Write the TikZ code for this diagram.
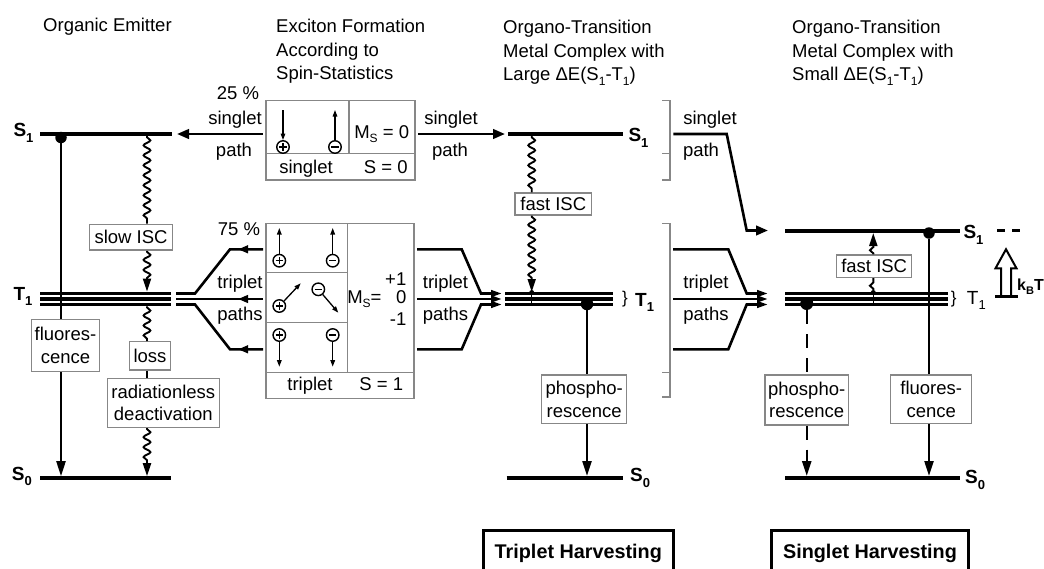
\documentclass[tikz,border=0pt]{standalone}
\usepackage{fontspec}
\setmainfont{Liberation Sans}
\usetikzlibrary{arrows.meta,decorations.pathmorphing,decorations.markings}
\definecolor{framegray}{RGB}{135,135,135}
% small lowered index inside running text
\newcommand\sbs[1]{\raisebox{-0.25em}{\fontsize{12}{12}\selectfont #1}}
% index of a state label
\newcommand\lvsub[1]{\raisebox{-5.8pt}{\fontsize{13}{13}\selectfont #1}}
\begin{document}
\begin{tikzpicture}[x=1pt,y=-1pt,
  every node/.style={font=\fontsize{18.5}{23.5}\selectfont, inner sep=0pt},
  lab/.style={anchor=base},
  labr/.style={anchor=base east},
  title/.style={anchor=north west, align=left},
  lvname/.style={anchor=base west, font=\fontsize{19}{19}\selectfont\bfseries},
  lvplain/.style={anchor=base west, font=\fontsize{19}{19}\selectfont},
  bracechar/.style={font=\fontsize{17}{17}\selectfont},
  gbox/.style={draw=framegray, line width=1.4pt, fill=white, align=center,
               font=\fontsize{18.5}{22.5}\selectfont},
  cellframe/.style={draw=framegray, line width=1.4pt},
  gridline/.style={framegray, line width=1.4pt},
  level/.style={line width=4.2pt},
  sublevel/.style={line width=3.6pt},
  trans/.style={line width=2.2pt},
  tip/.style={-{Triangle[length=15pt,width=9pt]}},
  dashtrans/.style={line width=2.4pt, dash pattern=on 14pt off 10pt},
  wavy/.style={line width=1.9pt, decorate,
    decoration={snake, amplitude=3.4pt, segment length=10pt, pre length=1pt, post length=1pt}},
  wavytip/.style={line width=1.9pt, decorate,
    decoration={snake, amplitude=3.4pt, segment length=10pt, pre length=1pt, post length=11pt},
    -{Triangle[length=13pt,width=8pt]}},
  pathline/.style={line width=2.6pt, line join=miter},
  pathtip/.style={-{Triangle[length=12pt,width=9.5pt]}},
  smalltip/.style={-{Triangle[length=11pt,width=6.5pt]}},
  midtip/.style={postaction={decorate}, decoration={markings,
      mark=at position 25pt with {\arrow{Triangle[length=10pt,width=7.5pt]}}}},
  chg/.style={circle, draw, line width=1.4pt, minimum size=12.5pt, inner sep=0pt, fill=white},
  poschg/.style={chg, path picture={\draw[line width=1.3pt]
      ([xshift=-3.6pt]path picture bounding box.center) -- ([xshift=3.6pt]path picture bounding box.center)
      ([yshift=-3.6pt]path picture bounding box.center) -- ([yshift=3.6pt]path picture bounding box.center);}},
  negchg/.style={chg, path picture={\draw[line width=1.3pt]
      ([xshift=-3.6pt]path picture bounding box.center) -- ([xshift=3.6pt]path picture bounding box.center);}},
  spin/.style={line width=1.3pt, -{Triangle[length=6.5pt,width=4.5pt]}},
  bulb/.style={circle, fill, inner sep=0pt},
  hframe/.style={draw, line width=3pt},
  htext/.style={anchor=base, font=\fontsize{19.8}{19.8}\selectfont\bfseries},
]
\useasboundingbox (0,0) rectangle (1044,568);
\clip (0,0) rectangle (1044,568);

% ---------------- column headings
\node[title] (hOrg) at (43,18.3) {Organic Emitter};
\node[title] (hExc) at (276,19.3) {Exciton Formation\\According to\\Spin-Statistics};
\node[title] (hLarge) at (503,20) {Organo-Transition\\Metal Complex with\\Large ΔE(S\sbs{1}-T\sbs{1})};
\node[title] (hSmall) at (792,20) {Organo-Transition\\Metal Complex with\\Small ΔE(S\sbs{1}-T\sbs{1})};

% ================= organic emitter
\coordinate (oS1) at (40,134);   \coordinate (oS1e) at (172,134);
\coordinate (oS0) at (40,478);   \coordinate (oS0e) at (171,478);
\draw[level] (oS1) -- (oS1e);
\foreach \yy in {293.5,299,304.5} \draw[sublevel] (40,\yy) -- (171,\yy);
\draw[level] (oS0) -- (oS0e);
\node[lvname] (lOS1) at (13.3,136.7) {S\lvsub{1}};
\node[lvname] (lOT1) at (13.3,300) {T\lvsub{1}};
\node[lvname] (lOS0) at (11.7,480) {S\lvsub{0}};

% fluorescence
\node[gbox, minimum width=67.6pt, minimum height=52.4pt] (oFl) at (65.5,345.5) {fluores-\\cence};
\node[bulb, minimum size=11.5pt] (oFlDot) at (61,137.5) {};
\coordinate (oFlA) at (61,134);
\coordinate (oFlB) at (61,476.2);
\draw[trans] (oFlA) -- (oFlA |- oFl.north);
\draw[trans,tip] (oFlA |- oFl.south) -- (oFlB);

% intersystem crossing and radiationless loss
\node[gbox, minimum width=83.4pt, minimum height=25.7pt] (oSlow) at (131,237.2) {slow ISC};
\node[gbox, minimum width=41.4pt, minimum height=28.3pt] (oLoss) at (150,355.9) {loss};
\node[gbox, minimum width=112pt, minimum height=49pt] (oRad) at (163.3,402.8) {radiationless\\deactivation};
\coordinate (oWa) at (147,136.2);
\coordinate (oWt) at (147,291.6);
\coordinate (oWu) at (147,306.4);
\coordinate (oWb) at (147,476.2);
\draw[wavy] (oWa) -- (oWa |- oSlow.north);
\draw[wavytip] (oWa |- oSlow.south) -- (oWt);
\draw[wavy] (oWu) -- (oWu |- oLoss.north);
\draw[wavy] (oWu |- oLoss.south) -- (oWu |- oRad.north);
\draw[wavytip] (oWu |- oRad.south) -- (oWb);

% ================= spin statistics tables
\node[cellframe, minimum width=149pt, minimum height=79.3pt] (sbox) at (340.5,140.35) {};
\draw[gridline] (349,100.7) -- (349,153.3);
\draw[gridline] (266,153.3) -- (415,153.3);
\node[poschg] (sP) at (283,147) {};
\node[negchg] (sN) at (335,147) {};
\coordinate (sPa) at (283,110);
\coordinate (sNa) at (335,110);
\draw[spin] (sPa) -- (sP);
\draw[spin] (sN) -- (sNa);
\node[lab] (sMs) at (381.7,138.3) {M\sbs{S} = 0};
\node[lab] (sName) at (306,173) {singlet};
\node[lab] (sSpin) at (385.7,173) {S = 0};

\node[cellframe, minimum width=148pt, minimum height=175pt] (tbox) at (340,310.8) {};
\draw[gridline] (347.7,223.3) -- (347.7,372.7);
\draw[gridline] (266,372.7) -- (414,372.7);
\draw[gridline] (266,272.7) -- (347.7,272.7);
\draw[gridline] (266,322.7) -- (347.7,322.7);
% M_S = +1
\node[poschg] (t1P) at (279.3,260.7) {};
\node[negchg] (t1N) at (332.7,260.7) {};
\coordinate (t1Pa) at (279.3,228); \coordinate (t1Na) at (332.7,228);
\draw[spin] (t1P) -- (t1Pa);
\draw[spin] (t1N) -- (t1Na);
% M_S = 0
\node[poschg] (t2P) at (279.3,306) {};
\node[negchg] (t2N) at (318.3,289.3) {};
\coordinate (t2Pa) at (300.7,283.3); \coordinate (t2Na) at (338.3,312.7);
\draw[spin] (t2P) -- (t2Pa);
\draw[spin] (t2N) -- (t2Na);
% M_S = -1
\node[poschg] (t3P) at (279.3,335) {};
\node[negchg] (t3N) at (332.7,335) {};
\coordinate (t3Pa) at (279.3,366.7); \coordinate (t3Na) at (332.7,366.7);
\draw[spin] (t3P) -- (t3Pa);
\draw[spin] (t3N) -- (t3Na);
\node[labr] (tMs) at (381.7,303.3) {M\sbs{S}=};
\node[labr] (tP1) at (406.5,285) {+1};
\node[labr] (tZ) at (406.5,303.3) {0};
\node[labr] (tM1) at (406.5,325) {-1};
\node[lab] (tName) at (310,390) {triplet};
\node[lab] (tSpin) at (381.3,390) {S = 1};

% ---- paths towards the organic emitter
\node[lab] (pc25) at (238,99.5) {25 \%};
\node[lab] (sgL) at (235,124) {singlet};
\node[lab] (paL) at (234,156.7) {path};
\coordinate (sOutL) at (262.5,134);
\coordinate (sInO) at (177,134);
\draw[pathline,pathtip] (sOutL) -- (sInO);

\node[lab] (pc75) at (239,235) {75 \%};
\node[lab] (tgL) at (240,288) {triplet};
\node[lab] (psL) at (240,320) {paths};
\coordinate (tOutLa) at (263,249.3);
\coordinate (tOutLb) at (263,299);
\coordinate (tOutLc) at (263,349.3);
\draw[pathline,midtip] (tOutLa) -- (230,249.3) -- (195,293.5) -- (176,293.5);
\draw[pathline,midtip] (tOutLb) -- (176,299);
\draw[pathline,midtip] (tOutLc) -- (230,349.3) -- (195,304.5) -- (176,304.5);

% ================= complex with large gap
\coordinate (mS1) at (508,134);  \coordinate (mS1e) at (623,134);
\coordinate (mS0) at (506.7,478); \coordinate (mS0e) at (623.3,478);
\draw[level] (mS1) -- (mS1e);
\foreach \yy in {293.5,299,304.5} \draw[sublevel] (505,\yy) -- (613,\yy);
\draw[level] (mS0) -- (mS0e);
\node[lvname] (lMS1) at (628.3,141.5) {S\lvsub{1}};
\node[bracechar] (bM) at (625,299) {\}};
\node[lvname] (lMT1) at (635,306) {T\lvsub{1}};
\node[lvname] (lMS0) at (630,481.7) {S\lvsub{0}};

\node[lab] (sgM) at (451,124) {singlet};
\node[lab] (paM) at (450,156.7) {path};
\coordinate (sOutR) at (418,134);
\coordinate (sInM) at (505,134);
\draw[pathline,pathtip] (sOutR) -- (sInM);

\node[lab] (tgM) at (445.5,288) {triplet};
\node[lab] (psM) at (445.5,320) {paths};
\coordinate (tOutRa) at (417,249.3);
\coordinate (tOutRb) at (417,299);
\coordinate (tOutRc) at (417,349.3);
\draw[pathline,smalltip] (tOutRa) -- (461.7,249.3) -- (481,293.5) -- (502,293.5);
\draw[pathline,smalltip] (tOutRb) -- (502,299);
\draw[pathline,smalltip] (tOutRc) -- (461.7,349.3) -- (481,304.5) -- (502,304.5);

% fast ISC
\node[gbox, minimum width=76.7pt, minimum height=22pt] (mIsc) at (553.3,204) {fast ISC};
\coordinate (mWa) at (531.7,136.2);
\coordinate (mWt) at (531.7,292);
\draw[wavy] (mWa) -- (mWa |- mIsc.north);
\draw[wavytip] (mWa |- mIsc.south) -- (mWt);
\node[bulb, minimum size=5pt] (mIscDot) at (531.7,292.5) {};
\draw[line width=1.2pt] (mIscDot) -- (531.7,304);

% phosphorescence
\node[gbox, minimum width=85pt, minimum height=48.3pt] (mPh) at (584.2,399.2) {phospho-\\rescence};
\node[bulb, minimum size=12.5pt] (mPhDot) at (587,304) {};
\coordinate (mPhB) at (587,476);
\draw[trans] (mPhDot) -- (mPhDot |- mPh.north);
\draw[trans,tip] (mPhDot |- mPh.south) -- (mPhB);

% grey brackets that repeat the table rows
\draw[gridline] (662,100.7) -- (670,100.7) -- (670,180) -- (662,180);
\draw[gridline] (662,153.3) -- (670,153.3);
\draw[gridline] (662,223.3) -- (670,223.3) -- (670,397) -- (662,397);
\draw[gridline] (662,372.7) -- (670,372.7);

% ================= complex with small gap
\coordinate (rS1) at (785,230.7);  \coordinate (rS1e) at (960,230.7);
\coordinate (rS0) at (785,478.3);  \coordinate (rS0e) at (960,478.3);
\draw[level] (rS1) -- (rS1e);
\foreach \yy in {293.5,299,304.5} \draw[sublevel] (785,\yy) -- (948.3,\yy);
\draw[level] (rS0) -- (rS0e);
\node[lvname] (lRS1) at (963.3,238.3) {S\lvsub{1}};
\node[bracechar] (bR) at (953.7,299) {\}};
\node[lvplain] (lRT1) at (966.7,304) {T\lvsub{1}};
\node[lvname] (lRS0) at (965,483.3) {S\lvsub{0}};
\draw[line width=3pt] (997,230.5) -- (1005,230.5);
\draw[line width=3pt] (1012,230.5) -- (1020,230.5);

% thermal activation k_B T
\draw[line width=2.6pt] (995,296.7) -- (1018,296.7);
\draw[line width=2pt, line join=miter] (1001,295.5) -- (1001,268.3) -- (995.5,268.3)
  -- (1006,249.3) -- (1016.5,268.3) -- (1011,268.3) -- (1011,295.5);
\node[anchor=base west, font=\fontsize{16}{16}\selectfont\bfseries] (kbt) at (1017,290)
  {k\raisebox{-4pt}{\fontsize{11}{11}\selectfont B}T};

\node[lab] (sgR) at (710,124) {singlet};
\node[lab] (paR) at (701,156.7) {path};
\coordinate (sInR) at (673.3,134);
\coordinate (sEndR) at (768,230.5);
\draw[pathline,pathtip] (sInR) -- (726.7,134) -- (746.7,230.5) -- (sEndR);

\node[lab] (tgR) at (706,288) {triplet};
\node[lab] (psR) at (706,320) {paths};
\coordinate (tInRa) at (673,249.3);
\coordinate (tInRb) at (673,299);
\coordinate (tInRc) at (673,349.3);
\draw[pathline,smalltip] (tInRa) -- (728.3,249.3) -- (746.7,293.5) -- (768,293.5);
\draw[pathline,smalltip] (tInRb) -- (768,299);
\draw[pathline,smalltip] (tInRc) -- (728.3,349.3) -- (746.7,304.5) -- (768,304.5);

% fast reverse ISC
\node[gbox, minimum width=75pt, minimum height=22.3pt] (rIsc) at (874.2,266.2) {fast ISC};
\node[bulb, minimum size=5pt] (rIscDot) at (873.3,292.5) {};
\coordinate (rWt) at (873.3,233);
\draw[line width=1.2pt] (rIscDot) -- (873.3,304);
\draw[wavy] (rIscDot) -- (rIscDot |- rIsc.south);
\draw[wavytip] (rIscDot |- rIsc.north) -- (rWt);

% phosphorescence (weak) and fluorescence
\node[gbox, minimum width=83.3pt, minimum height=50pt] (rPh) at (806.7,400) {phospho-\\rescence};
\node[bulb, minimum size=13pt] (rPhDot) at (806.7,303.5) {};
\coordinate (rPhB) at (806.7,476);
\draw[dashtrans] (rPhDot) -- (rPhDot |- rPh.north);
\draw[dashtrans,tip] (rPhDot |- rPh.south) -- (rPhB);

\node[gbox, minimum width=81pt, minimum height=48.3pt] (rFl) at (931.2,399.2) {fluores-\\cence};
\node[bulb, minimum size=11.5pt] (rFlDot) at (929,233) {};
\coordinate (rFlB) at (929,476);
\draw[trans] (rFlDot) -- (rFlDot |- rFl.north);
\draw[trans,tip] (rFlDot |- rFl.south) -- (rFlB);

% ================= harvesting captions
\node[hframe, minimum width=190pt, minimum height=50pt] (thF) at (578.3,555.7) {};
\node[htext] (thT) at (578.3,558.3) {Triplet Harvesting};
\node[hframe, minimum width=196.6pt, minimum height=50pt] (shF) at (870,555.7) {};
\node[htext] (shT) at (870,558.3) {Singlet Harvesting};
\end{tikzpicture}
\end{document}
